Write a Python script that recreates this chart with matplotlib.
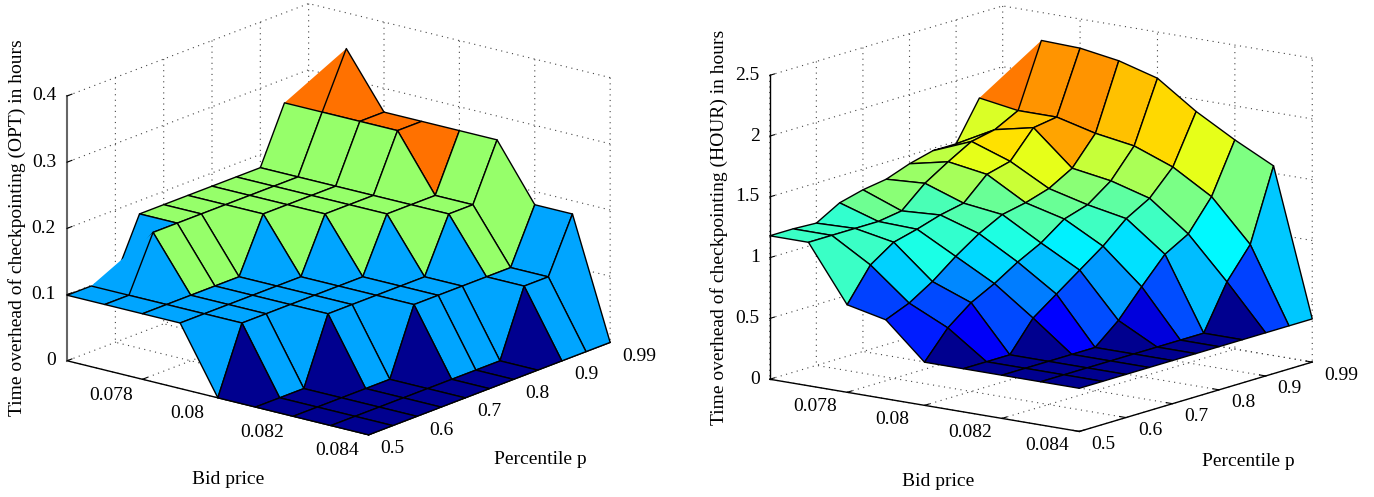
import matplotlib
matplotlib.use("Agg")
import matplotlib.pyplot as plt
from matplotlib.colors import LinearSegmentedColormap, Normalize
from mpl_toolkits.mplot3d import proj3d
from mpl_toolkits.mplot3d.art3d import Poly3DCollection

plt.rcParams["font.family"] = ["Liberation Serif", "DejaVu Serif"]
plt.rcParams["font.size"] = 14
plt.rcParams["grid.color"] = "#444444"
plt.rcParams["grid.linestyle"] = (0, (1, 4))
plt.rcParams["grid.linewidth"] = 0.8

W, H = 1374, 497

bid_price = [0.076, 0.077, 0.078, 0.079, 0.08, 0.081, 0.082, 0.083, 0.084]
percentile = [0.5, 0.55, 0.6, 0.65, 0.7, 0.75, 0.8, 0.85, 0.9, 0.95, 0.99]
bid_ticks = [0.078, 0.08, 0.082, 0.084]
bid_labels = ["0.078", "0.08", "0.082", "0.084"]
pct_ticks = [0, 2, 4, 6, 8, 10]  # index into percentile
pct_labels = ["0.5", "0.6", "0.7", "0.8", "0.9", "0.99"]

# rows: percentile, columns: bid price
opt_overhead = [
    [0.099, 0.099, 0.099, 0.099, 0, 0, 0, 0, 0],
    [0.099, 0.099, 0.099, 0.099, 0.099, 0, 0, 0, 0],
    [0.099, 0.18, 0.099, 0.099, 0.099, 0, 0, 0, 0],
    [0.18, 0.18, 0.099, 0.099, 0.099, 0.099, 0, 0, 0],
    [0.18, 0.18, 0.099, 0.099, 0.099, 0.099, 0, 0, 0],
    [0.18, 0.18, 0.18, 0.099, 0.099, 0.099, 0.099, 0, 0],
    [0.18, 0.18, 0.18, 0.18, 0.099, 0.099, 0.099, 0, 0],
    [0.18, 0.18, 0.18, 0.18, 0.18, 0.099, 0.099, 0, 0],
    [0.18, 0.18, 0.18, 0.18, 0.18, 0.18, 0.099, 0.099, 0],
    [0.264, 0.264, 0.264, 0.264, 0.18, 0.18, 0.099, 0.099, 0],
    [0.264, 0.346, 0.264, 0.264, 0.264, 0.264, 0.18, 0.18, 0],
]
hour_overhead = [
    [1.18, 1.18, 0.72, 0.65, 0.355, 0.355, 0.355, 0.355, 0.355],
    [1.18, 1.18, 0.99, 0.73, 0.58, 0.355, 0.355, 0.355, 0.355],
    [1.17, 1.18, 1.12, 0.85, 0.73, 0.355, 0.355, 0.355, 0.355],
    [1.28, 1.18, 1.17, 1.00, 0.83, 0.60, 0.355, 0.355, 0.355],
    [1.33, 1.21, 1.23, 1.13, 0.95, 0.74, 0.355, 0.355, 0.355],
    [1.36, 1.38, 1.27, 1.23, 1.05, 0.88, 0.52, 0.355, 0.355],
    [1.43, 1.50, 1.45, 1.27, 1.19, 1.02, 0.74, 0.355, 0.355],
    [1.48, 1.61, 1.50, 1.33, 1.25, 1.19, 0.95, 0.355, 0.355],
    [1.48, 1.65, 1.72, 1.44, 1.39, 1.30, 1.06, 0.72, 0.355],
    [1.80, 1.75, 1.75, 1.67, 1.62, 1.50, 1.31, 0.97, 0.355],
    [1.92, 2.27, 2.26, 2.21, 2.12, 1.90, 1.72, 1.56, 0.355],
]

# same anchors as the MATLAB jet map
jet = LinearSegmentedColormap.from_list("matlab_jet", [
    (0, (0, 0, 0.5625)), (0.125, (0, 0, 1)), (0.375, (0, 1, 1)),
    (0.625, (1, 1, 0)), (0.875, (1, 0, 0)), (1, (0.5, 0, 0)),
])


def draw_surface(ax, z, hull_cells):
    # percentile axis is evenly spaced by index, not by value
    rows = range(len(percentile))
    cols = range(len(bid_price))
    lo = min(min(r) for r in z)
    hi = max(max(r) for r in z)
    norm = Normalize(lo, hi)

    faces, fc, ec = [], [], []
    for j in rows[:-1]:
        for i in cols[:-1]:
            a = (bid_price[i], j, z[j][i])
            b = (bid_price[i + 1], j, z[j][i + 1])
            c = (bid_price[i + 1], j + 1, z[j + 1][i + 1])
            d = (bid_price[i], j + 1, z[j + 1][i])
            if (i, j) in hull_cells:
                # concave quads were filled as their outer triangle, no edge
                faces.append([a, b, c])
                ec.append((0, 0, 0, 0))
            else:
                faces.append([a, b, c, d])
                ec.append((0, 0, 0, 1))
            fc.append(jet(norm(z[j][i])))

    surf = Poly3DCollection(faces, facecolors=fc, edgecolors=ec, linewidths=1.0)
    ax.add_collection3d(surf)


def tick_label(ax, point, text, offset, ha):
    # mplot3d resets tick label transforms, so the labels are annotations
    x2, y2, _ = proj3d.proj_transform(*point, ax.get_proj())
    ax.annotate(text, (x2, y2), xytext=offset, textcoords="offset pixels",
                ha=ha, va="center")


def style_axes(ax, zmax, zticks, zlabels, x_off, y_off, z_off):
    ax.set_proj_type("ortho")
    ax.set_xlim(bid_price[0], bid_price[-1])
    ax.set_ylim(0, len(percentile) - 1)
    ax.set_zlim(0, zmax)
    ax.set_xticks(bid_ticks, [""] * len(bid_ticks))
    ax.set_yticks(pct_ticks, [""] * len(pct_ticks))
    ax.set_zticks(zticks, [""] * len(zticks))
    ax.patch.set_alpha(0)
    for axis in (ax.xaxis, ax.yaxis, ax.zaxis):
        axis.set_pane_color((1, 1, 1, 0))
        axis.pane.set_edgecolor((1, 1, 1, 0))
        axis.line.set_color("black")
        axis.line.set_linewidth(1.0)
        axis._axinfo["tick"].update(inward_factor=0, outward_factor=0.25)
        axis._axinfo["tick"]["linewidth"] = {True: 0.8, False: 0.5}
    ax.zaxis.set_ticks_position("lower")

    p_lo, p_hi = ax.get_ylim()
    x_lo, x_hi = ax.get_xlim()
    for t, s in zip(bid_ticks, bid_labels):
        tick_label(ax, (t, p_lo, 0), s, x_off, "center")
    for t, s in zip(pct_ticks, pct_labels):
        tick_label(ax, (x_hi, t, 0), s, y_off, "left")
    for t, s in zip(zticks, zlabels):
        tick_label(ax, (x_lo, p_lo, t), s, z_off, "right")


fig = plt.figure(figsize=(W / 100, H / 100), dpi=100)

ax1 = fig.add_axes([30.5 / W, -30.3 / H, 600 / W, 600 / H], projection="3d")
ax1.view_init(elev=17.85, azim=-51.3)
ax1.set_box_aspect((1, 1, 0.72), zoom=0.992)
draw_surface(ax1, opt_overhead, [(0, 1), (0, 9)])
style_axes(ax1, 0.4, [0, 0.1, 0.2, 0.3, 0.4], ["0", "0.1", "0.2", "0.3", "0.4"],
           (-31, -16), (12, -14), (-11, 0))
ax1.zaxis.line.set_color("#666666")
ax1.zaxis.line.set_linewidth(1.5)

ax2 = fig.add_axes([732.9 / W, -29.8 / H, 600 / W, 600 / H], projection="3d")
ax2.view_init(elev=12.95, azim=-53.04)
ax2.set_box_aspect((1, 1, 0.805), zoom=1.02)
draw_surface(ax2, hour_overhead, [(0, 9)])
style_axes(ax2, 2.5, [0, 0.5, 1, 1.5, 2, 2.5], ["0", "0.5", "1", "1.5", "2", "2.5"],
           (-32, -14), (12, -13), (-10, 0))

fig.text(228 / W, 1 - 479 / H, "Bid price", ha="center", va="center")
fig.text(540 / W, 1 - 459 / H, "Percentile p", ha="center", va="center")
fig.text(17 / W, 1 - 228 / H, "Time overhead of checkpointing (OPT) in hours",
         rotation=90, ha="center", va="center")
fig.text(938 / W, 1 - 482 / H, "Bid price", ha="center", va="center")
fig.text(1248 / W, 1 - 462 / H, "Percentile p", ha="center", va="center")
fig.text(719 / W, 1 - 227 / H, "Time overhead of checkpointing (HOUR) in hours",
         rotation=90, ha="center", va="center")

fig.savefig("out.png", dpi=100)
